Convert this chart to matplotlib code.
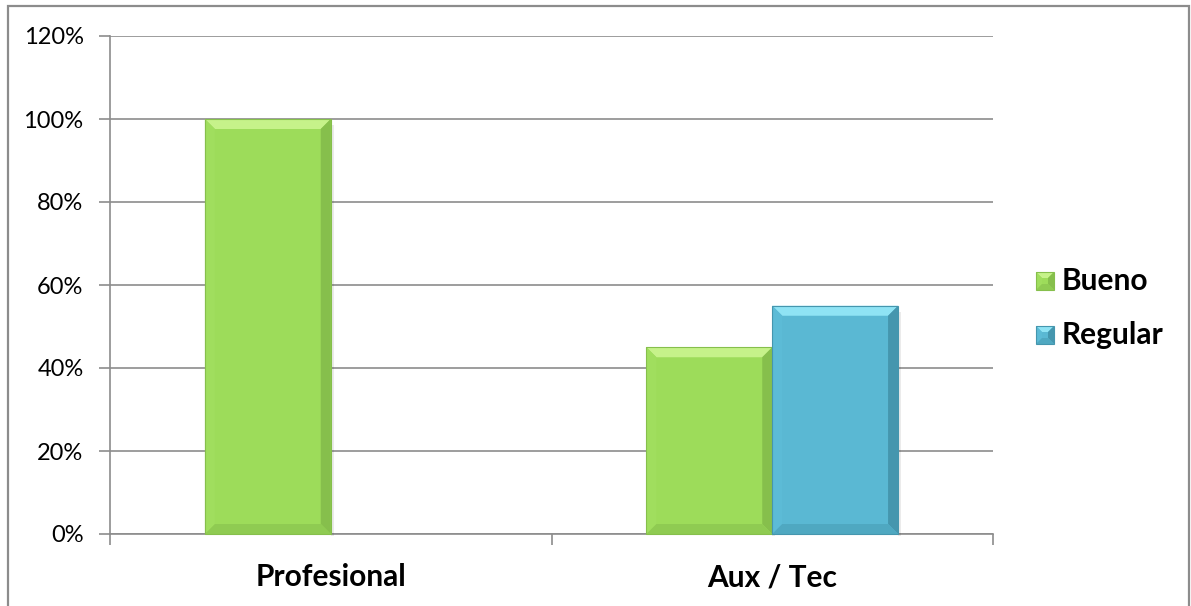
import numpy as np
import matplotlib
matplotlib.use("Agg")
import matplotlib.pyplot as plt
from matplotlib.patches import Polygon, Rectangle
from matplotlib.transforms import IdentityTransform

plt.rcParams['font.family'] = ['Lato', 'DejaVu Sans']

categories = ['Profesional', 'Aux / Tec']
series = ['Bueno', 'Regular']
bueno = [1.00, 0.45]
regular = [0.00, 0.55]
yticks = [0.0, 0.2, 0.4, 0.6, 0.8, 1.0, 1.2]
ytick_labels = ['0%', '20%', '40%', '60%', '80%', '100%', '120%']

# face, top edge, left edge, right edge, bottom edge
palette = {
    'Bueno':   ('#9ddc5a', '#c6f28a', '#a0de5e', '#86bf4c', '#8fcb52'),
    'Regular': ('#5ab8d3', '#8fe3f4', '#5cbbd6', '#4596ae', '#4fa8c1'),
}

W, H = 1191, 606
fig = plt.figure(figsize=(W / 100, H / 100), dpi=100)
ax = fig.add_axes([110 / W, (H - 534) / H, (993 - 110) / W, (534 - 36) / H])

# outer chart frame
fig.patches.append(Rectangle((8 / W, -0.05), (1189 - 8) / W, (H - 6) / H + 0.05,
                             transform=fig.transFigure, fill=False,
                             edgecolor='#8c8c8c', linewidth=1.6))

x = np.arange(len(categories))
width = 0.285
ax.set_xlim(-0.5, len(categories) - 0.5)
ax.set_ylim(0, 1.2)

ax.set_yticks(yticks)
ax.set_yticklabels(ytick_labels, fontsize=17)
ax.set_xticks(x)
ax.set_xticklabels(categories, fontsize=21.5, fontweight='bold')
ax.set_xticks([-0.5, 0.5, 1.5], minor=True)
ax.tick_params(axis='x', which='major', length=0, pad=21)
ax.tick_params(axis='x', which='minor', length=8, color='#8c8c8c', width=1.2)
ax.tick_params(axis='y', length=8, color='#8c8c8c', width=1.2, pad=11)
ax.grid(axis='y', color='#8c8c8c', linewidth=1.2)
ax.set_axisbelow(True)
for s in ['top', 'right']:
    ax.spines[s].set_visible(False)
for s in ['left', 'bottom']:
    ax.spines[s].set_color('#8c8c8c')
    ax.spines[s].set_linewidth(1.2)

offsets = [-width / 2, width / 2]
bar_sets = []
for name, vals, off in zip(series, [bueno, regular], offsets):
    bars = ax.bar(x + off, vals, width, color=palette[name][0], label=name,
                  edgecolor='none', zorder=3)
    bar_sets.append((name, bars))


def bevel(px0, py0, px1, py1, cols, d, z=4):
    # py0 is the bottom in display coords, py1 the top
    face, top, left, right, bottom = cols
    polys = [
        ([(px0, py0), (px1, py0), (px1, py1), (px0, py1)], face),
        ([(px0, py1), (px1, py1), (px1 - d, py1 - d), (px0 + d, py1 - d)], top),
        ([(px0, py0), (px0, py1), (px0 + d, py1 - d), (px0 + d, py0 + d)], left),
        ([(px1, py0), (px1, py1), (px1 - d, py1 - d), (px1 - d, py0 + d)], right),
        ([(px0, py0), (px1, py0), (px1 - d, py0 + d), (px0 + d, py0 + d)], bottom),
    ]
    for pts, c in polys:
        fig.patches.append(Polygon(pts, closed=True, facecolor=c, edgecolor='none',
                                   transform=IdentityTransform(), zorder=z))
    fig.patches.append(Polygon([(px0, py0), (px1, py0), (px1, py1), (px0, py1)],
                               closed=True, fill=False, edgecolor=right,
                               linewidth=0.8, transform=IdentityTransform(), zorder=z))


fig.canvas.draw()
for name, bars in bar_sets:
    for b in bars:
        if b.get_height() <= 0:
            continue
        (px0, py0), (px1, py1) = ax.transData.transform(
            [(b.get_x(), 0), (b.get_x() + b.get_width(), b.get_height())])
        # soft shadow on the right
        fig.patches.append(Rectangle((px1, py0 - 2), 3, py1 - py0 - 4, facecolor='#000000',
                                     alpha=0.08, edgecolor='none',
                                     transform=IdentityTransform(), zorder=2))
        bevel(px0, py0, px1, py1, palette[name], 10)

# legend
for i, name in enumerate(series):
    ly = H - (281 + i * 54)
    bevel(1036, ly - 9, 1054, ly + 9, palette[name], 6)
    fig.text(1062 / W, ly / H, name, fontsize=21.5, fontweight='bold',
             va='center', ha='left')

fig.savefig('out.png', dpi=100)
